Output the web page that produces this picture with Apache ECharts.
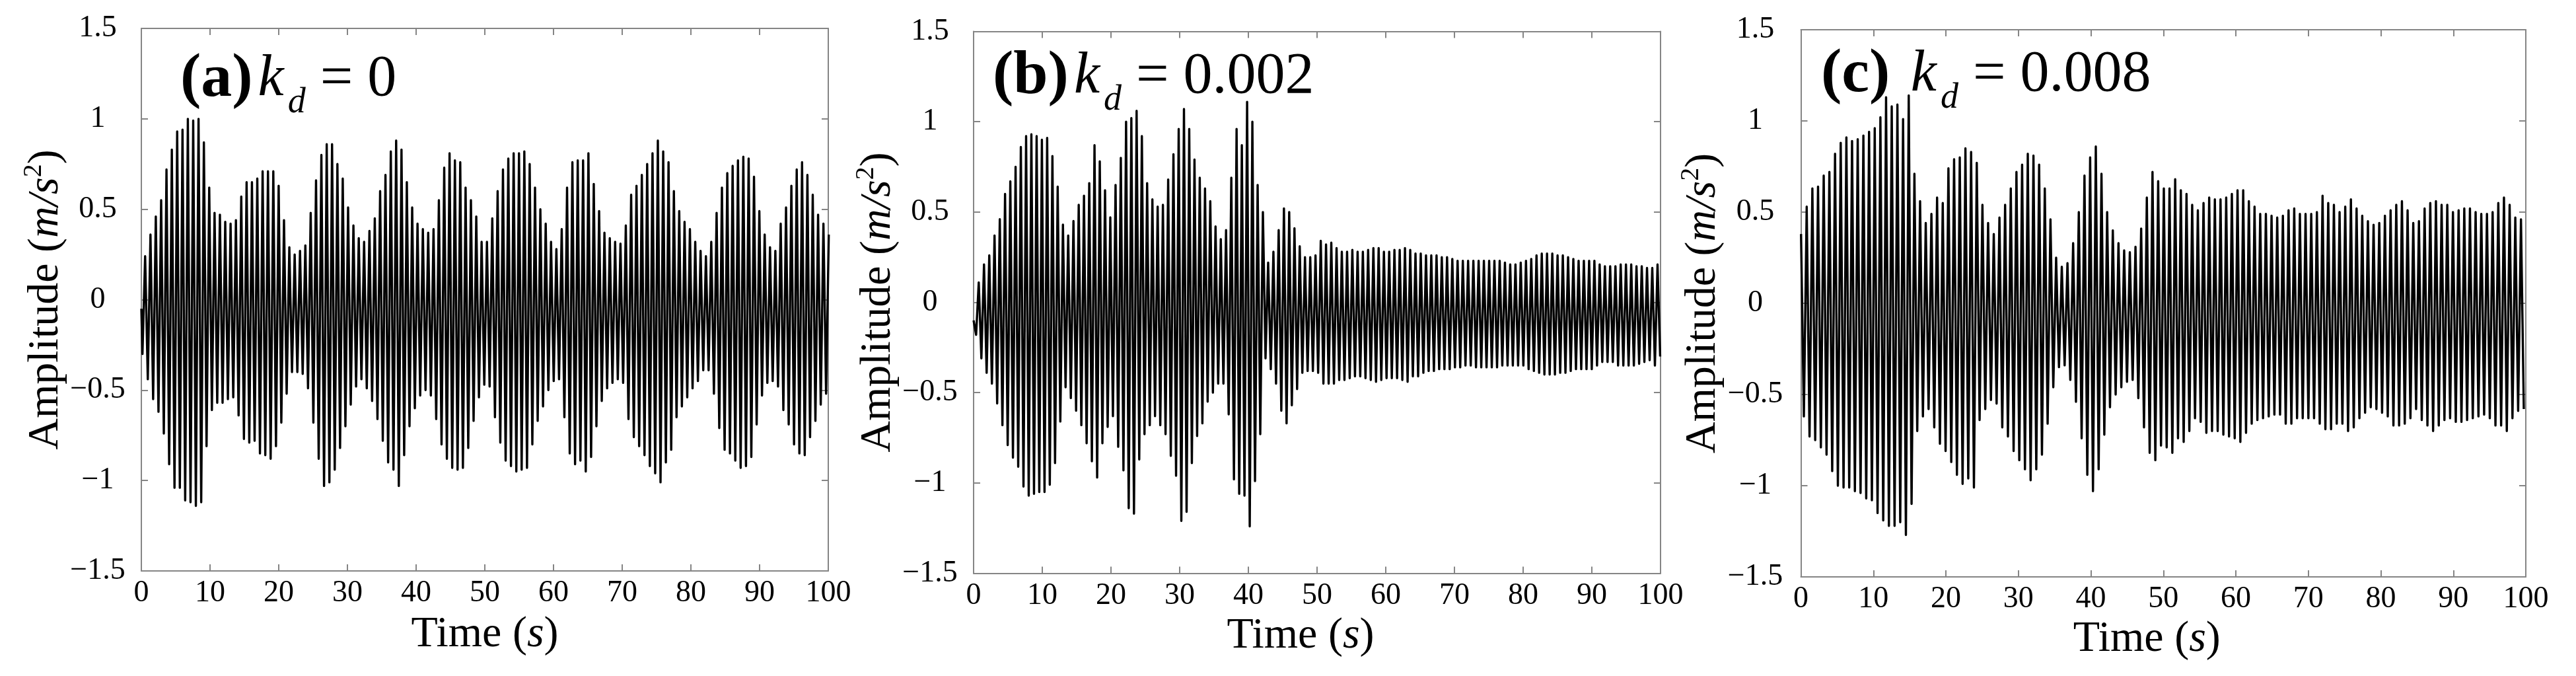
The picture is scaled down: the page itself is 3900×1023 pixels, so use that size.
<!DOCTYPE html>
<html>
<head>
<meta charset="utf-8">
<title>Amplitude vs time</title>
<script src="https://cdn.jsdelivr.net/npm/echarts@6/dist/echarts.min.js"></script>
<style>
  html, body { margin: 0; padding: 0; background: #fff; }
  #chart { width: 3900px; height: 1023px; }
</style>
</head>
<body>
<div id="chart"></div>
<script>
// peak / trough values of each oscillation cycle
// (a) kd = 0 : trough k comes before peak k
const peaksA = [
  0.24, 0.36, 0.46, 0.55, 0.72, 0.83, 0.93, 0.94, 1.00, 0.99,
  1.00, 0.87, 0.62, 0.48, 0.47, 0.43, 0.42, 0.44, 0.57, 0.65,
  0.65, 0.67, 0.71, 0.71, 0.71, 0.63, 0.44, 0.29, 0.25, 0.27,
  0.30, 0.48, 0.66, 0.80, 0.86, 0.86, 0.75, 0.67, 0.51, 0.41,
  0.34, 0.32, 0.38, 0.45, 0.60, 0.69, 0.82, 0.88, 0.83, 0.65,
  0.51, 0.42, 0.39, 0.37, 0.39, 0.55, 0.73, 0.81, 0.77, 0.76,
  0.62, 0.55, 0.46, 0.32,
  0.32, 0.45, 0.60, 0.72, 0.78, 0.81, 0.81, 0.82, 0.75, 0.62,
  0.50, 0.42, 0.32, 0.28, 0.39, 0.62, 0.76, 0.77, 0.77, 0.81,
  0.64, 0.49, 0.37, 0.34, 0.32, 0.31, 0.41, 0.58, 0.63, 0.69,
  0.75, 0.81, 0.88, 0.82, 0.76, 0.60, 0.49, 0.43, 0.39, 0.32,
  0.27, 0.24, 0.32, 0.48, 0.62, 0.70, 0.74, 0.77, 0.79, 0.78,
  0.68, 0.49, 0.36, 0.29, 0.27, 0.42, 0.51, 0.63, 0.72, 0.76,
  0.69, 0.58, 0.47, 0.42, 0.36
];
const troughsA = [
  -0.30, -0.44, -0.55, -0.62, -0.74, -0.91, -1.04, -1.04, -1.11, -1.12,
  -1.14, -1.12, -0.81, -0.61, -0.57, -0.57, -0.55, -0.54, -0.64, -0.77,
  -0.79, -0.78, -0.85, -0.86, -0.88, -0.81, -0.68, -0.52, -0.40, -0.40,
  -0.41, -0.49, -0.68, -0.88, -1.03, -1.01, -0.94, -0.82, -0.70, -0.58,
  -0.48, -0.44, -0.49, -0.56, -0.66, -0.78, -0.90, -0.94, -1.03, -0.86,
  -0.70, -0.60, -0.53, -0.50, -0.53, -0.66, -0.80, -0.88, -0.93, -0.94,
  -0.93, -0.82, -0.67, -0.54, -0.47,
  -0.48, -0.65, -0.79, -0.89, -0.92, -0.95, -0.94, -0.93, -0.80,
  -0.67, -0.59, -0.50, -0.45, -0.44, -0.65, -0.85, -0.91, -0.89, -0.95,
  -0.87, -0.70, -0.56, -0.49, -0.46, -0.44, -0.46, -0.66, -0.76, -0.81,
  -0.86, -0.92, -0.96, -1.01, -0.90, -0.83, -0.65, -0.59, -0.54, -0.49,
  -0.45, -0.39, -0.39, -0.52, -0.71, -0.83, -0.85, -0.89, -0.93, -0.92,
  -0.87, -0.69, -0.53, -0.46, -0.45, -0.48, -0.61, -0.69, -0.80, -0.85,
  -0.86, -0.76, -0.67, -0.58, -0.52
];

// (b) kd = 0.002 : trough k comes before peak k
const peaksB = [
  0.11, 0.21, 0.26, 0.37, 0.46, 0.60, 0.67, 0.75, 0.86, 0.92,
  0.93, 0.92, 0.90, 0.91, 0.81, 0.64, 0.43, 0.37, 0.45, 0.54,
  0.59, 0.66, 0.87, 0.78, 0.62, 0.47, 0.65, 0.80, 1.00, 1.02,
  1.06, 0.92, 0.66, 0.57, 0.53, 0.54, 0.68, 0.82, 0.96, 1.07,
  0.96, 0.79, 0.69, 0.63, 0.56, 0.42, 0.35, 0.40, 0.69, 0.96,
  0.87, 1.11, 1.00, 0.65, 0.50, 0.22, 0.28, 0.40, 0.52, 0.50,
  0.41, 0.31, 0.25, 0.25, 0.26,
  0.34, 0.32, 0.33, 0.30, 0.28, 0.28, 0.29, 0.28, 0.28, 0.29,
  0.30, 0.30, 0.28, 0.28, 0.29, 0.29, 0.30, 0.29, 0.27, 0.27,
  0.26, 0.26, 0.26, 0.25, 0.25, 0.24, 0.23, 0.23, 0.23, 0.23,
  0.23, 0.23, 0.23, 0.23, 0.23, 0.22, 0.21, 0.21, 0.22, 0.23,
  0.24, 0.26, 0.27, 0.27, 0.27, 0.26, 0.26, 0.25, 0.24, 0.23,
  0.23, 0.23, 0.23, 0.21, 0.20, 0.20, 0.20, 0.21, 0.21, 0.21,
  0.20, 0.20, 0.19, 0.19, 0.21
];
const troughsB = [
  -0.18, -0.31, -0.39, -0.45, -0.56, -0.68, -0.79, -0.86, -0.91, -1.02,
  -1.07, -1.06, -1.05, -1.05, -1.01, -0.89, -0.66, -0.47, -0.53, -0.60,
  -0.68, -0.78, -0.88, -0.97, -0.78, -0.69, -0.63, -0.80, -0.93, -1.14,
  -1.17, -0.87, -0.73, -0.68, -0.63, -0.68, -0.73, -0.85, -0.96, -1.21,
  -1.16, -0.89, -0.74, -0.67, -0.55, -0.50, -0.45, -0.45, -0.62, -0.98,
  -1.06, -1.07, -1.24, -0.99, -0.73, -0.31, -0.37, -0.45, -0.60, -0.67,
  -0.57, -0.48, -0.39, -0.38, -0.38, -0.39,
  -0.45, -0.45, -0.45, -0.43, -0.43, -0.42, -0.41, -0.41, -0.42,
  -0.43, -0.44, -0.43, -0.42, -0.42, -0.42, -0.43, -0.44, -0.41, -0.41,
  -0.39, -0.38, -0.38, -0.37, -0.37, -0.37, -0.36, -0.36, -0.35, -0.35,
  -0.36, -0.36, -0.36, -0.36, -0.36, -0.35, -0.35, -0.35, -0.35, -0.35,
  -0.37, -0.38, -0.39, -0.40, -0.40, -0.40, -0.39, -0.39, -0.38, -0.37,
  -0.37, -0.37, -0.37, -0.35, -0.33, -0.33, -0.33, -0.35, -0.35, -0.35,
  -0.35, -0.34, -0.33, -0.32, -0.35, -0.30
];

// (c) kd = 0.008 : peak k comes before trough k
const peaksC = [
  0.38, 0.53, 0.63, 0.64, 0.70, 0.72, 0.82, 0.88, 0.91, 0.89,
  0.90, 0.92, 0.94, 0.96, 1.02, 1.13, 1.08, 1.09, 1.01, 1.14,
  0.71, 0.56, 0.44, 0.49, 0.58, 0.55, 0.74, 0.79, 0.80, 0.85,
  0.83, 0.77, 0.54, 0.44, 0.38, 0.47, 0.54, 0.63, 0.72, 0.76,
  0.82, 0.81, 0.76, 0.63, 0.46, 0.25, 0.20, 0.22, 0.33, 0.50,
  0.70, 0.80, 0.86, 0.71, 0.50, 0.40, 0.33, 0.29, 0.28, 0.31,
  0.41, 0.58, 0.72, 0.67,
  0.63, 0.63, 0.68, 0.62, 0.60, 0.54, 0.51, 0.55, 0.58, 0.57,
  0.57, 0.58, 0.60, 0.62, 0.62, 0.56, 0.53, 0.49, 0.49, 0.48,
  0.47, 0.48, 0.51, 0.52, 0.49, 0.49, 0.49, 0.50, 0.59, 0.55,
  0.54, 0.50, 0.53, 0.57, 0.52, 0.48, 0.45, 0.43, 0.44, 0.48,
  0.51, 0.54, 0.56, 0.51, 0.44, 0.45, 0.52, 0.55, 0.56, 0.54,
  0.54, 0.50, 0.51, 0.52, 0.52, 0.50, 0.49, 0.49, 0.50, 0.55,
  0.58, 0.54, 0.47, 0.46
];
const troughsC = [
  -0.62, -0.73, -0.75, -0.79, -0.83, -0.92, -1.00, -1.01, -1.01, -1.03,
  -1.04, -1.07, -1.08, -1.15, -1.19, -1.22, -1.22, -1.20, -1.27, -1.10,
  -0.70, -0.62, -0.58, -0.68, -0.77, -0.81, -0.87, -0.94, -0.99, -0.96,
  -1.01, -0.64, -0.58, -0.53, -0.55, -0.68, -0.73, -0.81, -0.86, -0.91,
  -0.97, -0.91, -0.83, -0.66, -0.46, -0.35, -0.34, -0.42, -0.54, -0.74,
  -0.94, -1.03, -0.91, -0.72, -0.57, -0.50, -0.46, -0.43, -0.42, -0.52,
  -0.68, -0.82, -0.86, -0.78,
  -0.79, -0.82, -0.74, -0.76, -0.70, -0.63, -0.65, -0.71, -0.70,
  -0.70, -0.72, -0.73, -0.74, -0.76, -0.71, -0.66, -0.64, -0.63, -0.62,
  -0.61, -0.61, -0.66, -0.66, -0.63, -0.63, -0.63, -0.63, -0.66, -0.69,
  -0.69, -0.66, -0.66, -0.70, -0.68, -0.63, -0.60, -0.57, -0.58, -0.60,
  -0.62, -0.67, -0.67, -0.66, -0.63, -0.58, -0.64, -0.67, -0.70, -0.67,
  -0.64, -0.63, -0.65, -0.65, -0.64, -0.63, -0.62, -0.61, -0.63, -0.67,
  -0.67, -0.70, -0.63, -0.59, -0.58
];

// sampling: first peak time and oscillation period (s), value at t = 0
const firstPeakA = 0.55, periodA = 0.7775, startA = -0.05;
const firstPeakB = 0.75, periodB = 0.766, startB = -0.10;
const firstPeakC = 0.02, periodC = 0.782, startC = null;

const timeTicks = [0, 100, 10];      // min, max, step
const ampTicks = [-1.5, 1.5, 0.5];
const panelTags = ['(a)', '(b)', '(c) '];
const kdValues = ['0', '0.002', '0.008'];

function buildSignal(start, firstPeak, period, peaks, troughs, troughLeads) {
  const pts = [];
  if (start !== null) pts.push([0, start]);
  const n = Math.max(peaks.length, troughs.length);
  for (let k = 0; k < n; k++) {
    const tp = firstPeak + k * period;
    const tt = troughLeads ? tp - period / 2 : tp + period / 2;
    if (troughLeads) {
      if (k < troughs.length) pts.push([tt, troughs[k]]);
      if (k < peaks.length) pts.push([tp, peaks[k]]);
    } else {
      if (k < peaks.length) pts.push([tp, peaks[k]]);
      if (k < troughs.length) pts.push([tt, troughs[k]]);
    }
  }
  return pts;
}

const signals = [
  buildSignal(startA, firstPeakA, periodA, peaksA, troughsA, true),
  buildSignal(startB, firstPeakB, periodB, peaksB, troughsB, true),
  buildSignal(startC, firstPeakC, periodC, peaksC, troughsC, false)
];

const FONT = '"Liberation Serif", "Times New Roman", serif';
const BOX = '#858585';

// plot boxes in pixels
const panels = [
  { left: 214, top: 43, width: 1040, height: 821, yLabelMargin: 66, yNameGap: 98, xNameGap: 64, xNameShift: 0, titleLeft: 273, titleTop: 59 },
  { left: 1474, top: 47.5, width: 1040, height: 820, yLabelMargin: 66, yNameGap: 102, xNameGap: 60, xNameShift: 50, titleLeft: 1503, titleTop: 55 },
  { left: 2726.5, top: 45, width: 1097.5, height: 828, yLabelMargin: 69, yNameGap: 86, xNameGap: 58, xNameShift: 50, titleLeft: 2757, titleTop: 52 }
];

const fmtAmp = v => (v < 0 ? '\u2212' + Math.abs(v) : String(v));

const grid = [], xAxis = [], yAxis = [], series = [], title = [];

panels.forEach((p, i) => {
  grid.push({ left: p.left, top: p.top, width: p.width, height: p.height, outerBoundsMode: 'none', containLabel: false });

  const line = { show: true, onZero: false, lineStyle: { color: BOX, width: 2 } };
  const tick = { show: true, inside: true, length: 10, lineStyle: { color: BOX, width: 2 } };

  xAxis.push({
    type: 'value', gridIndex: i, position: 'bottom',
    min: timeTicks[0], max: timeTicks[1], interval: timeTicks[2],
    axisLine: line, axisTick: tick, splitLine: { show: false },
    axisLabel: { color: '#000', fontFamily: FONT, fontSize: 46, lineHeight: 46, margin: 11 },
    name: '{n|Time (}{i|s}{n|)}', nameLocation: 'middle', nameGap: p.xNameGap,
    nameTextStyle: {
      padding: [0, p.xNameShift, 0, 0],
      rich: {
        n: { fontFamily: FONT, fontSize: 66, lineHeight: 66, color: '#000' },
        i: { fontFamily: FONT, fontSize: 66, lineHeight: 66, fontStyle: 'italic', color: '#000' }
      }
    }
  });
  xAxis.push({
    type: 'value', gridIndex: i, position: 'top',
    min: timeTicks[0], max: timeTicks[1], interval: timeTicks[2],
    axisLine: line, axisTick: tick, splitLine: { show: false }, axisLabel: { show: false }
  });

  yAxis.push({
    type: 'value', gridIndex: i, position: 'left',
    min: ampTicks[0], max: ampTicks[1], interval: ampTicks[2],
    axisLine: line, axisTick: tick, splitLine: { show: false },
    axisLabel: { color: '#000', fontFamily: FONT, fontSize: 46, align: 'center', margin: p.yLabelMargin, formatter: fmtAmp },
    name: '{n|Amplitude (}{i|m/s}{s|2}{n|)}', nameLocation: 'middle', nameRotate: 90, nameGap: p.yNameGap,
    nameTextStyle: {
      rich: {
        n: { fontFamily: FONT, fontSize: 66, lineHeight: 76, color: '#000' },
        i: { fontFamily: FONT, fontSize: 66, lineHeight: 76, fontStyle: 'italic', color: '#000' },
        s: { fontFamily: FONT, fontSize: 40, lineHeight: 40, verticalAlign: 'top', color: '#000' }
      }
    }
  });
  yAxis.push({
    type: 'value', gridIndex: i, position: 'right',
    min: ampTicks[0], max: ampTicks[1], interval: ampTicks[2],
    axisLine: line, axisTick: tick, splitLine: { show: false }, axisLabel: { show: false }
  });

  series.push({
    type: 'line', xAxisIndex: 2 * i, yAxisIndex: 2 * i,
    data: signals[i], symbol: 'none', clip: true, silent: true,
    lineStyle: { color: '#000', width: 3.4, join: 'round' }
  });

  title.push({
    text: '{b|' + panelTags[i] + '}{k|k}{d|d}{v| = ' + kdValues[i] + '}',
    left: p.titleLeft, top: p.titleTop, padding: 0,
    textStyle: {
      rich: {
        b: { fontFamily: FONT, fontSize: 94, fontWeight: 'bold', lineHeight: 124, color: '#000' },
        k: { fontFamily: FONT, fontSize: 88, fontStyle: 'italic', fontWeight: 'normal', lineHeight: 124, padding: [0, 0, 0, 8], color: '#000' },
        d: { fontFamily: FONT, fontSize: 54, fontStyle: 'italic', fontWeight: 'normal', lineHeight: 54, verticalAlign: 'bottom', padding: [0, 0, 0, 6], color: '#000' },
        v: { fontFamily: FONT, fontSize: 88, fontWeight: 'normal', lineHeight: 124, color: '#000' }
      }
    }
  });
});

const chart = echarts.init(document.getElementById('chart'));
chart.setOption({
  backgroundColor: '#fff',
  animation: false,
  title, grid, xAxis, yAxis, series
});
</script>
</body>
</html>
